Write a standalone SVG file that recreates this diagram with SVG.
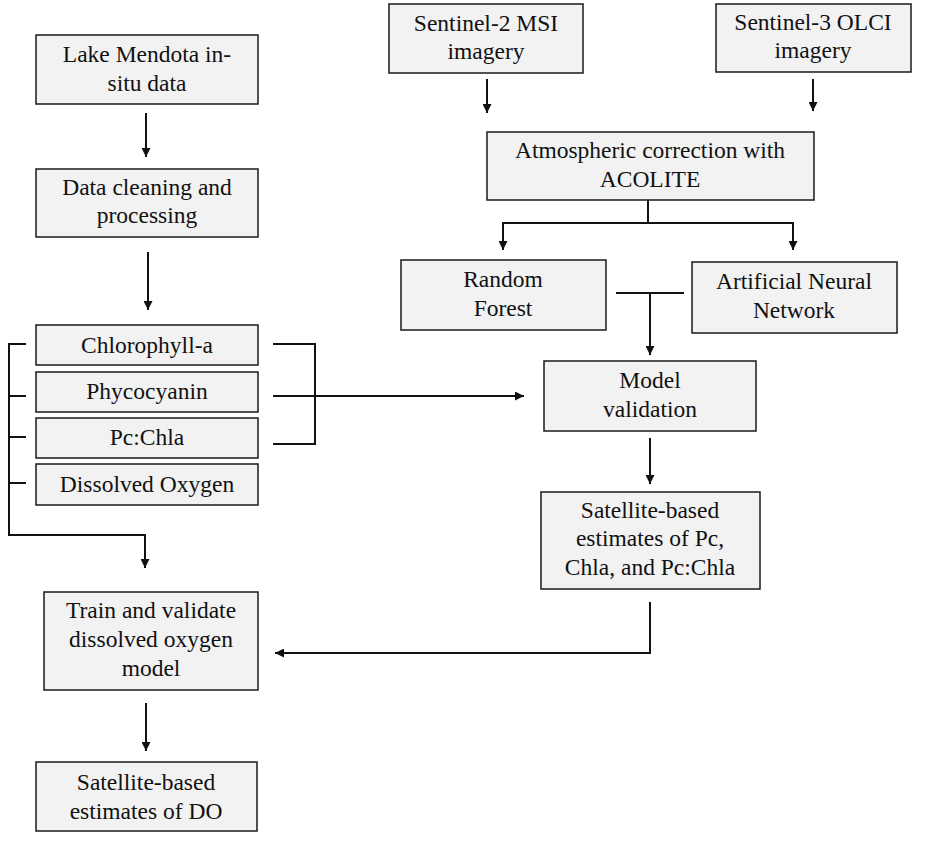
<svg xmlns="http://www.w3.org/2000/svg" width="936" height="850" viewBox="0 0 936 850">
<style>
.box{fill:#f2f2f2;stroke:#1a1a1a;stroke-width:1.5}
.t{font-family:"Liberation Serif","Times New Roman",serif;font-size:23.5px;fill:#111;text-anchor:middle}
.c{fill:none;stroke:#111;stroke-width:2}
.a{marker-end:url(#ah)}
</style>
<defs>
<marker id="ah" viewBox="0 0 10 10" refX="10" refY="5" markerWidth="9" markerHeight="9" markerUnits="userSpaceOnUse" orient="auto">
<path d="M0,0 L10,5 L0,10 z" fill="#111"/>
</marker>
</defs>
<rect width="936" height="850" fill="#fff"/>
<g id="lake"><rect class="box" x="36" y="35" width="222" height="69"/><text class="t" x="147" y="62">Lake Mendota in-</text><text class="t" x="147" y="91">situ data</text></g>
<g id="cleaning"><rect class="box" x="36" y="169" width="222" height="68"/><text class="t" x="147" y="195">Data cleaning and</text><text class="t" x="147" y="223">processing</text></g>
<g id="chla"><rect class="box" x="36" y="325" width="222" height="40"/><text class="t" x="147" y="353">Chlorophyll-a</text></g>
<g id="pc"><rect class="box" x="36" y="372" width="222" height="40"/><text class="t" x="147" y="399">Phycocyanin</text></g>
<g id="pcchla"><rect class="box" x="36" y="418" width="222" height="40"/><text class="t" x="147" y="445">Pc:Chla</text></g>
<g id="do"><rect class="box" x="36" y="464" width="222" height="41"/><text class="t" x="147" y="492">Dissolved Oxygen</text></g>
<g id="train"><rect class="box" x="44" y="592" width="214" height="98"/><text class="t" x="151" y="618">Train and validate</text><text class="t" x="151" y="647">dissolved oxygen</text><text class="t" x="151" y="676">model</text></g>
<g id="satdo"><rect class="box" x="36" y="762" width="221" height="69"/><text class="t" x="146" y="790">Satellite-based</text><text class="t" x="146" y="819">estimates of DO</text></g>
<g id="s2"><rect class="box" x="389" y="4" width="194" height="69"/><text class="t" x="486" y="31">Sentinel-2 MSI</text><text class="t" x="486" y="59">imagery</text></g>
<g id="s3"><rect class="box" x="716" y="4" width="195" height="68"/><text class="t" x="813" y="30">Sentinel-3 OLCI</text><text class="t" x="813" y="58">imagery</text></g>
<g id="acolite"><rect class="box" x="487" y="132" width="327" height="68"/><text class="t" x="650" y="158">Atmospheric correction with</text><text class="t" x="650" y="187">ACOLITE</text></g>
<g id="rf"><rect class="box" x="401" y="260" width="205" height="70"/><text class="t" x="503" y="287">Random</text><text class="t" x="503" y="316">Forest</text></g>
<g id="ann"><rect class="box" x="692" y="262" width="205" height="71"/><text class="t" x="794" y="289">Artificial Neural</text><text class="t" x="794" y="318">Network</text></g>
<g id="validation"><rect class="box" x="544" y="361" width="212" height="70"/><text class="t" x="650" y="388">Model</text><text class="t" x="650" y="417">validation</text></g>
<g id="satest"><rect class="box" x="541" y="492" width="219" height="97"/><text class="t" x="650" y="518">Satellite-based</text><text class="t" x="650" y="546">estimates of Pc,</text><text class="t" x="650" y="575">Chla, and Pc:Chla</text></g>
<g id="connectors">
<path class="c a" d="M146 113 V157"/>
<path class="c a" d="M148 252 V310"/>
<path class="c" d="M26 344 H9 V535 H145"/>
<path class="c a" d="M145 534 V568"/>
<path class="c" d="M9 396 H26 M9 437 H26 M9 483 H26"/>
<path class="c" d="M273 344 H315 V444 H273"/>
<path class="c a" d="M273 396 H524"/>
<path class="c a" d="M487 79 V113"/>
<path class="c a" d="M813 79 V111"/>
<path class="c" d="M648 200 V223 M503 223 H793"/>
<path class="c a" d="M503 222 V250"/>
<path class="c a" d="M793 222 V250"/>
<path class="c" d="M616 293 H684"/>
<path class="c a" d="M650 293 V355"/>
<path class="c a" d="M650 438 V484"/>
<path class="c a" d="M650 602 V653 H275"/>
<path class="c a" d="M146 703 V751"/>
</g>
</svg>
